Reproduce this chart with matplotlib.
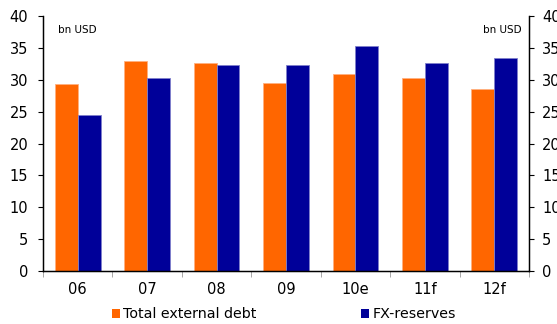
import numpy as np
import matplotlib.pyplot as plt
from matplotlib.patches import Patch

years = ["06", "07", "08", "09", "10e", "11f", "12f"]
external_debt = [29.3, 32.9, 32.6, 29.5, 30.9, 30.3, 28.5]
fx_reserves = [24.5, 30.2, 32.3, 32.3, 35.3, 32.6, 33.4]

ORANGE = "#FF6600"
NAVY = "#000099"

fig = plt.figure(figsize=(5.57, 3.24), dpi=100)
ax = fig.add_axes([43 / 557, 53 / 324, 486 / 557, 255 / 324])

x = np.arange(len(years))
w = 0.33
ax.bar(x - w / 2, external_debt, w, color=ORANGE, edgecolor="#ffb080", linewidth=0.6)
ax.bar(x + w / 2, fx_reserves, w, color=NAVY, edgecolor="#8080cc", linewidth=0.6)

ax.set_xlim(-0.5, len(years) - 0.5)
ax.set_ylim(0, 40)
ax.set_yticks(range(0, 41, 5))
ax.tick_params(axis="y", labelsize=10.5, length=3.5, direction="out", pad=7)

# category labels centred, tick marks on the boundaries
ax.set_xticks(x)
ax.set_xticklabels(years, fontsize=10.5)
ax.tick_params(axis="x", which="major", length=0, pad=8)
ax.set_xticks(np.arange(-0.5, len(years)), minor=True)
ax.tick_params(axis="x", which="minor", length=4, color="#999999", direction="out")

ax.spines["top"].set_visible(False)
for s in ["left", "right", "bottom"]:
    ax.spines[s].set_linewidth(1.0)

ax2 = ax.twinx()
ax2.set_ylim(0, 40)
ax2.set_yticks(range(0, 41, 5))
ax2.tick_params(axis="y", labelsize=10.5, length=3.5, direction="out", pad=6)
ax2.spines["top"].set_visible(False)

ax.text(0.03, 0.965, "bn USD", transform=ax.transAxes, fontsize=7.5, va="top", ha="left")
ax.text(0.985, 0.965, "bn USD", transform=ax.transAxes, fontsize=7.5, va="top", ha="right")

handles = [Patch(facecolor=ORANGE, label="Total external debt"),
           Patch(facecolor=NAVY, label="FX-reserves")]
fig.legend(handles=handles, loc="center", bbox_to_anchor=(0.51, 0.03), ncol=2,
           frameon=False, fontsize=10.3, handlelength=0.55, handleheight=0.55,
           handletextpad=0.25, columnspacing=7.3)

fig.savefig("out.png", dpi=100)
